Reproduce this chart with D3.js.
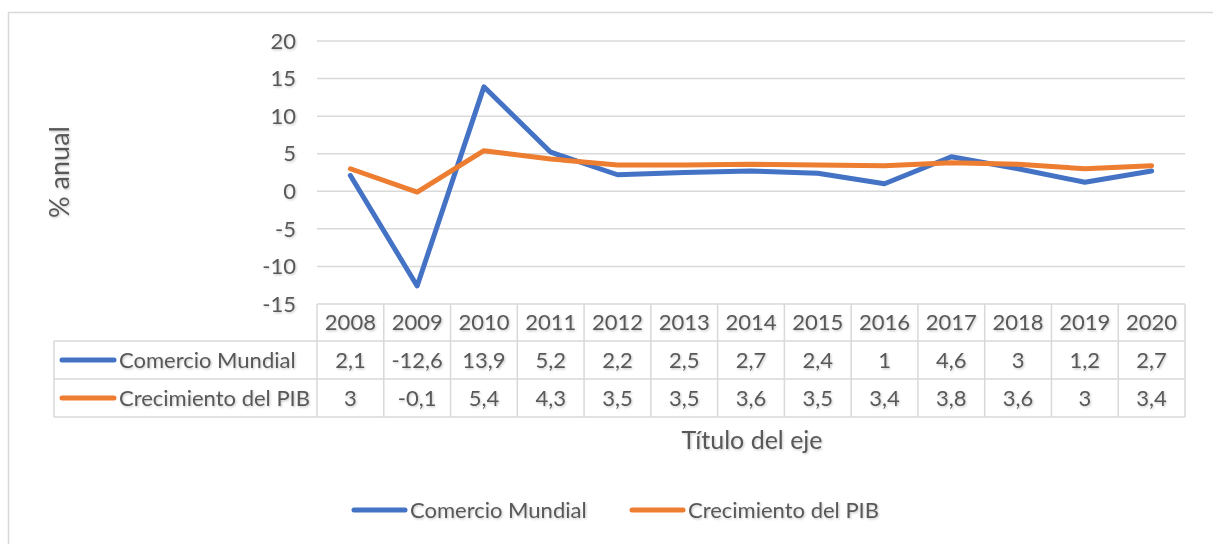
<!DOCTYPE html>
<html>
<head>
<meta charset="utf-8">
<script src="https://cdn.jsdelivr.net/npm/d3@7"></script>
<style>
  body { margin: 0; background: #fff; }
  text { font-family: Lato, "Open Sans", sans-serif; fill: #595959; }
</style>
</head>
<body>
<div id="chart"></div>
<script>
// data
const years = ["2008", "2009", "2010", "2011", "2012", "2013", "2014", "2015", "2016", "2017", "2018", "2019", "2020"];
const comercio = [2.1, -12.6, 13.9, 5.2, 2.2, 2.5, 2.7, 2.4, 1, 4.6, 3, 1.2, 2.7];
const pib = [3, -0.1, 5.4, 4.3, 3.5, 3.5, 3.6, 3.5, 3.4, 3.8, 3.6, 3, 3.4];
const yTicks = [20, 15, 10, 5, 0, -5, -10, -15];
const seriesNames = ["Comercio Mundial", "Crecimiento del PIB"];
const colors = ["#4472C4", "#ED7D31"];

const W = 1213, H = 544;
const plotLeft = 317, plotRight = 1185, plotTop = 41, plotBottom = 304;
const rowH = [304, 341, 379, 417];
const labelLeft = 54;
const fs = "22px";

const svg = d3.select("#chart").append("svg")
  .attr("width", W)
  .attr("height", H);

// soft shadow like the Excel text
svg.append("defs").append("filter")
  .attr("id", "shadow")
  .attr("x", "-10%").attr("y", "-20%")
  .attr("width", "130%").attr("height", "150%")
  .append("feDropShadow")
  .attr("dx", 1).attr("dy", 1.2)
  .attr("stdDeviation", 0.9)
  .attr("flood-color", "#000")
  .attr("flood-opacity", 0.22);

// chart frame
svg.append("rect")
  .attr("x", 8.5).attr("y", 12.5)
  .attr("width", W).attr("height", H)
  .attr("fill", "none")
  .attr("stroke", "#d9d9d9")
  .attr("stroke-width", 1.5);

const x = d3.scaleBand().domain(years).range([plotLeft, plotRight]);
const y = d3.scaleLinear().domain([-15, 20]).range([plotBottom, plotTop]);
const fmt = v => String(v).replace(".", ",");

// gridlines
svg.append("g")
  .selectAll("line")
  .data(yTicks.filter(d => d !== -15))
  .join("line")
  .attr("x1", plotLeft).attr("x2", plotRight)
  .attr("y1", d => y(d)).attr("y2", d => y(d))
  .attr("stroke", "#d9d9d9")
  .attr("stroke-width", 1.5);

const texts = svg.append("g").attr("filter", "url(#shadow)");

// y axis labels
texts.append("g")
  .selectAll("text")
  .data(yTicks)
  .join("text")
  .attr("x", 296)
  .attr("y", d => y(d))
  .attr("dy", "0.35em")
  .attr("text-anchor", "end")
  .style("font-size", fs)
  .text(d => d);

// y axis title
texts.append("text")
  .attr("transform", "translate(69,172) rotate(-90)")
  .attr("text-anchor", "middle")
  .style("font-size", "27px")
  .text("% anual");

// lines
const line = d3.line()
  .x((d, i) => x(years[i]) + x.bandwidth() / 2)
  .y(d => y(d));

[comercio, pib].forEach((vals, k) => {
  svg.append("path")
    .datum(vals)
    .attr("fill", "none")
    .attr("stroke", colors[k])
    .attr("stroke-width", 5)
    .attr("stroke-linejoin", "round")
    .attr("stroke-linecap", "round")
    .attr("d", line);
});

// data table
const table = svg.append("g");
const gridColor = "#d9d9d9";

// horizontal lines
table.append("line")
  .attr("x1", plotLeft).attr("x2", plotRight)
  .attr("y1", rowH[0]).attr("y2", rowH[0])
  .attr("stroke", gridColor).attr("stroke-width", 1.5);
rowH.slice(1).forEach(r => {
  table.append("line")
    .attr("x1", labelLeft).attr("x2", plotRight)
    .attr("y1", r).attr("y2", r)
    .attr("stroke", gridColor).attr("stroke-width", 1.5);
});

// vertical lines
const colEdges = years.map(d => x(d)).concat([plotRight]);
colEdges.forEach(cx => {
  table.append("line")
    .attr("x1", cx).attr("x2", cx)
    .attr("y1", rowH[0]).attr("y2", rowH[3])
    .attr("stroke", gridColor).attr("stroke-width", 1.5);
});
table.append("line")
  .attr("x1", labelLeft).attr("x2", labelLeft)
  .attr("y1", rowH[1]).attr("y2", rowH[3])
  .attr("stroke", gridColor).attr("stroke-width", 1.5);

const tableText = table.append("g").attr("filter", "url(#shadow)");

// header years
tableText.selectAll(".yr")
  .data(years)
  .join("text")
  .attr("class", "yr")
  .attr("x", d => x(d) + x.bandwidth() / 2)
  .attr("y", (rowH[0] + rowH[1]) / 2)
  .attr("dy", "0.35em")
  .attr("text-anchor", "middle")
  .style("font-size", fs)
  .text(d => d);

// series rows
[comercio, pib].forEach((vals, k) => {
  const cy = (rowH[k + 1] + rowH[k + 2]) / 2;
  table.append("line")
    .attr("x1", 62).attr("x2", 114)
    .attr("y1", cy).attr("y2", cy)
    .attr("stroke", colors[k])
    .attr("stroke-width", 5)
    .attr("stroke-linecap", "round");
  tableText.append("text")
    .attr("x", 119)
    .attr("y", cy)
    .attr("dy", "0.35em")
    .style("font-size", fs)
    .text(seriesNames[k]);
  tableText.selectAll(".v" + k)
    .data(vals)
    .join("text")
    .attr("class", "v" + k)
    .attr("x", (d, i) => x(years[i]) + x.bandwidth() / 2)
    .attr("y", cy)
    .attr("dy", "0.35em")
    .attr("text-anchor", "middle")
    .style("font-size", fs)
    .text(d => fmt(d));
});

// x axis title
texts.append("text")
  .attr("x", 752)
  .attr("y", 440)
  .attr("dy", "0.35em")
  .attr("text-anchor", "middle")
  .style("font-size", "25px")
  .text("Título del eje");

// legend
const legendX = [352, 630];
const legend = svg.selectAll(".legend")
  .data(seriesNames)
  .join("g")
  .attr("class", "legend")
  .attr("transform", (d, i) => `translate(${legendX[i]}, 510)`);

legend.append("line")
  .attr("x1", 2).attr("x2", 53)
  .attr("y1", 0).attr("y2", 0)
  .attr("stroke", (d, i) => colors[i])
  .attr("stroke-width", 5)
  .attr("stroke-linecap", "round");

legend.append("text")
  .attr("x", 58)
  .attr("y", 0)
  .attr("dy", "0.35em")
  .attr("filter", "url(#shadow)")
  .style("font-size", fs)
  .text(d => d);
</script>
</body>
</html>
